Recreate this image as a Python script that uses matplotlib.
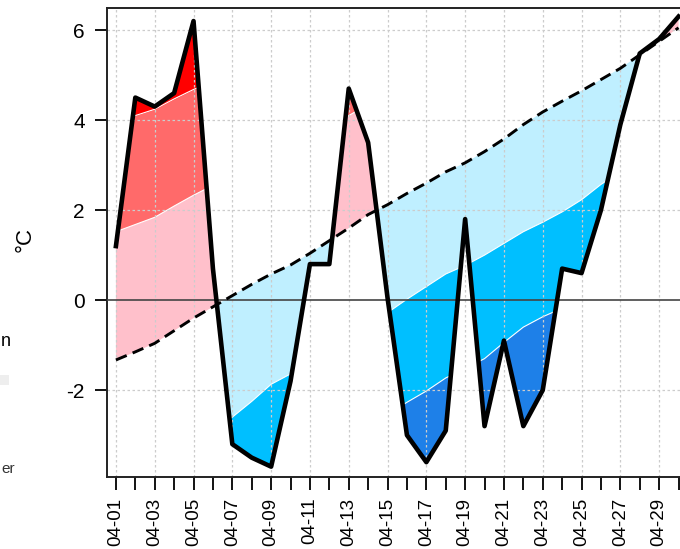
import matplotlib.pyplot as plt
import numpy as np

plt.rcParams['font.family'] = ['Liberation Sans', 'DejaVu Sans']
plt.rcParams['axes.unicode_minus'] = False

# daily temperature anomaly, April
days = np.arange(1, 31)
day_labels = ['04-%02d' % d for d in days]

obs = [1.2, 4.5, 4.3, 4.6, 6.2, 0.7, -3.2, -3.5, -3.7, -1.8,
       0.8, 0.8, 4.7, 3.5, 0.05, -3.0, -3.6, -2.9, 1.8, -2.8,
       -0.9, -2.8, -2.0, 0.7, 0.6, 2.0, 3.9, 5.48, 5.8, 6.3]

normal = [-1.33, -1.15, -0.96, -0.68, -0.4, -0.15, 0.1, 0.35, 0.58, 0.78,
          1.04, 1.32, 1.6, 1.9, 2.12, 2.37, 2.6, 2.85, 3.05, 3.3,
          3.58, 3.9, 4.18, 4.42, 4.65, 4.9, 5.15, 5.45, 5.75, 6.05]

# half width of inner and outer band around the normal
spread1 = [2.85, 2.83, 2.8, 2.77, 2.73, 2.7, 2.7, 2.6, 2.45, 2.42,
           2.42, 2.45, 2.5, 2.45, 2.4, 2.35, 2.3, 2.27, 2.28, 2.3,
           2.32, 2.38, 2.45, 2.46, 2.42, 2.33, 2.3, 2.3, 2.3, 2.3]
spread2 = [5.3, 5.25, 5.2, 5.15, 5.08, 5.0, 4.95, 4.9, 4.85, 4.8,
           4.75, 4.72, 4.7, 4.68, 4.66, 4.64, 4.62, 4.58, 4.57, 4.6,
           4.52, 4.5, 4.55, 4.6, 4.6, 4.55, 4.5, 4.5, 4.5, 4.5]

obs = np.array(obs)
normal = np.array(normal)
up1 = normal + np.array(spread1)
up2 = normal + np.array(spread2)
lo1 = normal - np.array(spread1)
lo2 = normal - np.array(spread2)

fig = plt.figure(figsize=(6.8, 5.49), dpi=100)
ax = fig.add_axes([107/680, 72/549, 583/680, 469/549])

# warm side
ax.fill_between(days, normal, obs, where=obs >= normal, interpolate=True, color='#FFC0CB', lw=0, zorder=1)
ax.fill_between(days, up1, obs, where=obs >= up1, interpolate=True, color='#FF6A6A', lw=0, zorder=1)
ax.fill_between(days, up2, obs, where=obs >= up2, interpolate=True, color='#FF0000', lw=0, zorder=1)
# cold side
ax.fill_between(days, normal, obs, where=obs <= normal, interpolate=True, color='#BFEFFF', lw=0, zorder=1)
ax.fill_between(days, lo1, obs, where=obs <= lo1, interpolate=True, color='#00BFFF', lw=0, zorder=1)
ax.fill_between(days, lo2, obs, where=obs <= lo2, interpolate=True, color='#1E80E8', lw=0, zorder=1)

for band in [up1, up2, lo1, lo2]:
    ax.plot(days, band, color='white', lw=0.8, zorder=2)

# dotted grid on top of the fills
for d in days[::2]:
    ax.axvline(d, color='#cccccc', linestyle=(0, (2, 2)), lw=0.9, zorder=2.5)
for v in [-2, 2, 4, 6]:
    ax.axhline(v, color='#cccccc', linestyle=(0, (2, 2)), lw=0.9, zorder=2.5)
ax.axhline(0, color='#444444', lw=1.2, zorder=3)

ax.plot(days, normal, color='black', lw=2.1, dashes=(4, 2.2), zorder=4)
ax.plot(days, obs, color='black', lw=3.3, zorder=5)

ax.set_xlim(0.54, 30.59)
ax.set_ylim(-3.93, 6.49)

ax.set_yticks([-2, 0, 2, 4, 6])
ax.set_xticks(days)
ax.set_xticklabels([lab if i % 2 == 0 else '' for i, lab in enumerate(day_labels)], rotation=90)

ax.tick_params(axis='both', direction='out', length=9, width=1.3, colors='black')
ax.tick_params(axis='y', pad=7, labelsize=15)
ax.tick_params(axis='x', pad=6, labelsize=13.5)
for side in ['left', 'top', 'bottom']:
    ax.spines[side].set_linewidth(1.4)
    ax.spines[side].set_color('#222222')

fig.text(25/680, 1 - 240/549, '°C', rotation=90, ha='center', va='center', fontsize=16)

# bits of a neighbouring panel at the left edge
fig.text(1/680, 1 - 342/549, 'n', ha='left', va='center', fontsize=13)
fig.text(1/680, 1 - 469/549, 'er', ha='left', va='center', fontsize=11, color='#333333')
fig.patches.append(plt.Rectangle((0, 1 - 385/549), 9/680, 10/549, transform=fig.transFigure,
                                 color='#eeeeee', lw=0))

fig.savefig('out.png', dpi=100)
